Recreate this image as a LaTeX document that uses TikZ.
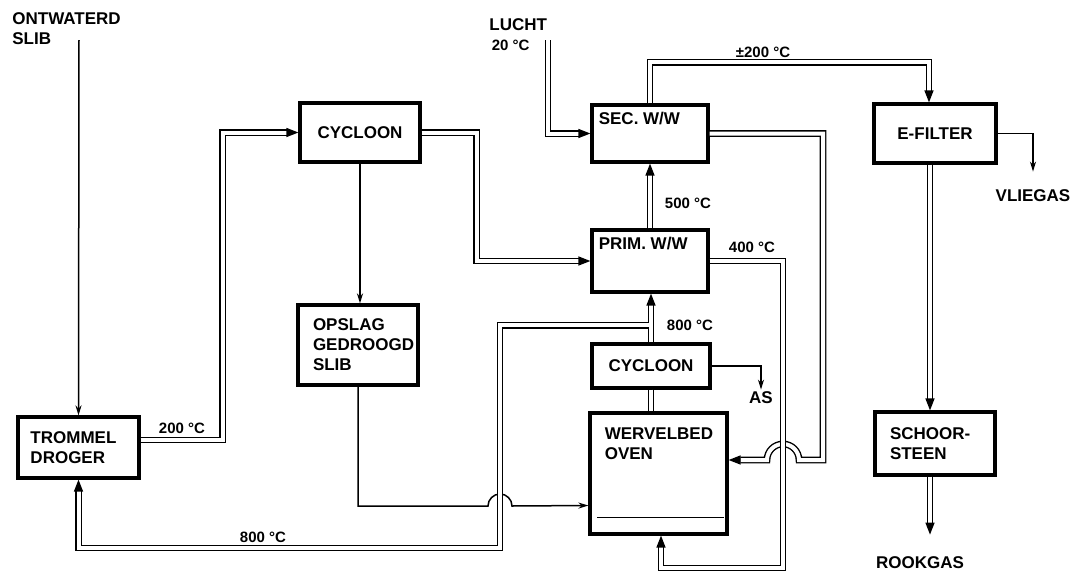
\documentclass[tikz,border=0pt]{standalone}
\usepackage{fontspec}
\setmainfont{Liberation Sans}
\usetikzlibrary{arrows.meta, calc}

\begin{document}
\begin{tikzpicture}[
    x=0.5pt, y=0.5pt,
    blok/.style    = {draw, line width=1.6pt, inner sep=0pt,
                      font=\bfseries\fontsize{8.5}{10}\selectfont},
    links/.style   = {text width=#1, align=left},
    tekst/.style   = {font=\bfseries\fontsize{8.5}{10}\selectfont, inner sep=1pt},
    temp/.style    = {font=\bfseries\fontsize{7.5}{9}\selectfont, inner sep=1pt},
    leiding/.style = {line width=0.75pt, -{Stealth[length=5pt, width=3pt]}},
    buis/.style    = {double, double distance=2pt, line width=0.7pt},
    stroom/.style  = {buis, -{Triangle[length=6pt, width=4.5pt]}},
    naad/.style    = {white, line width=2pt},
  ]
  \useasboundingbox (0,0) rectangle (1072,-574);

  % ---------- blokken ----------
  \node[blok, minimum width=60.5pt, minimum height=30.5pt, links=48pt]
        (droger) at (78.5,-447.5) {TROMMEL\\DROGER};
  \node[blok, minimum width=60pt, minimum height=29.5pt]
        (cycloon) at (360,-132.5) {CYCLOON};
  \node[blok, minimum width=60pt, minimum height=40pt, links=45pt]
        (opslag) at (358,-345) {OPSLAG\\GEDROOGD\\SLIB};
  \node[blok, minimum width=58pt, minimum height=28.5pt,
        label={[tekst, anchor=north west, inner sep=4pt]north west:SEC. W/W}]
        (sec) at (650,-133.5) {};
  \node[blok, minimum width=58pt, minimum height=31pt,
        label={[tekst, anchor=north west, inner sep=4pt]north west:PRIM. W/W}]
        (prim) at (650,-261) {};
  \node[blok, minimum width=59pt, minimum height=22pt]
        (cycloon2) at (651,-366) {CYCLOON};
  \node[blok, minimum width=68.5pt, minimum height=60.5pt,
        label={[tekst, anchor=north west, inner sep=8pt, align=left]north west:WERVELBED\\OVEN}]
        (oven) at (658.5,-473.5) {};
  \node[blok, minimum width=61pt, minimum height=29.5pt]
        (efilter) at (935,-133.5) {E-FILTER};
  \node[blok, minimum width=60pt, minimum height=31.5pt, links=45pt]
        (schoor) at (935,-443.5) {SCHOOR-\\STEEN};

  % bodem van het wervelbed
  \draw[line width=0.8pt] ($(oven.south west)+(9,18)$) -- ($(oven.south east)+(-5,18)$);

  % ---------- teksten ----------
  \node[tekst, anchor=north west, align=left] (slib) at (10,-10) {ONTWATERD\\SLIB};
  \node[tekst, anchor=north west, align=left] (lucht) at (487,-16)
        {LUCHT\\{\fontsize{7.5}{9}\selectfont\,20 °C}};
  \node[tekst] (as) at (761,-398) {AS};
  \node[tekst] (vliegas) at (1033,-196) {VLIEGAS};
  \node[tekst] (rookgas) at (920,-563) {ROOKGAS};

  \node[temp] (t200)  at (182,-428) {200 °C};
  \node[temp] (t800a) at (263,-537) {800 °C};
  \node[temp] (t800b) at (690,-325) {800 °C};
  \node[temp] (t500)  at (688,-203) {500 °C};
  \node[temp] (t400)  at (752,-247) {400 °C};
  \node[temp] (t200b) at (763,-52)  {±200 °C};

  % ---------- slib ----------
  \coordinate (invoer) at (79,-40);
  \draw[leiding] (invoer) -- (droger.north);
  \draw[stroom] ([yshift=3.75pt]droger.east) -- ++(82,0) |- (cycloon.west);
  \draw[stroom] (cycloon.east) -- ++(55,0) |- (prim.west);
  \draw[leiding] (cycloon.south) -- (cycloon.south |- opslag.north);
  \draw[leiding] (opslag.south) |- (488,-506)
        arc[start angle=180, end angle=0, radius=12] -- ([yshift=-16pt]oven.west);

  % ---------- rookgas ----------
  \draw[buis] (cycloon2.south) -- (cycloon2.south |- oven.north);
  \draw[stroom] (cycloon2.north) -- (cycloon2.north |- prim.south);
  \coordinate (aftak) at ([yshift=8.5pt]cycloon2.north);
  \draw[stroom] (aftak) -| (500,-548) -| (droger.south);
  \draw[naad] ([yshift=4pt]aftak) -- ([yshift=-4pt]aftak);
  \draw[stroom] (prim.north) -- (prim.north |- sec.south);
  \draw[stroom] (sec.north) -- ++(0,41) -| ([xshift=-3pt]efilter.north);
  \draw[stroom] ([xshift=-2.5pt]efilter.south) -- ([xshift=-2.5pt]schoor.north);
  \draw[stroom] ([xshift=-2.5pt]schoor.south) -- ++(0,-58);
  \draw[leiding] (efilter.east) -| ([yshift=8pt]vliegas.north);
  \draw[leiding] (cycloon2.east) -| (as.north);

  % ---------- lucht ----------
  \coordinate (luchtin) at (548,-40);
  \draw[stroom] (luchtin) |- (sec.west);
  \draw[stroom] (sec.east) -| (823,-460) -- (799,-460)
        arc[start angle=0, end angle=180, radius=16] -- ([yshift=6.75pt]oven.east);
  \draw[stroom] (prim.east) -| (783,-568) -| ([xshift=1.25pt]oven.south);

\end{tikzpicture}
\end{document}
